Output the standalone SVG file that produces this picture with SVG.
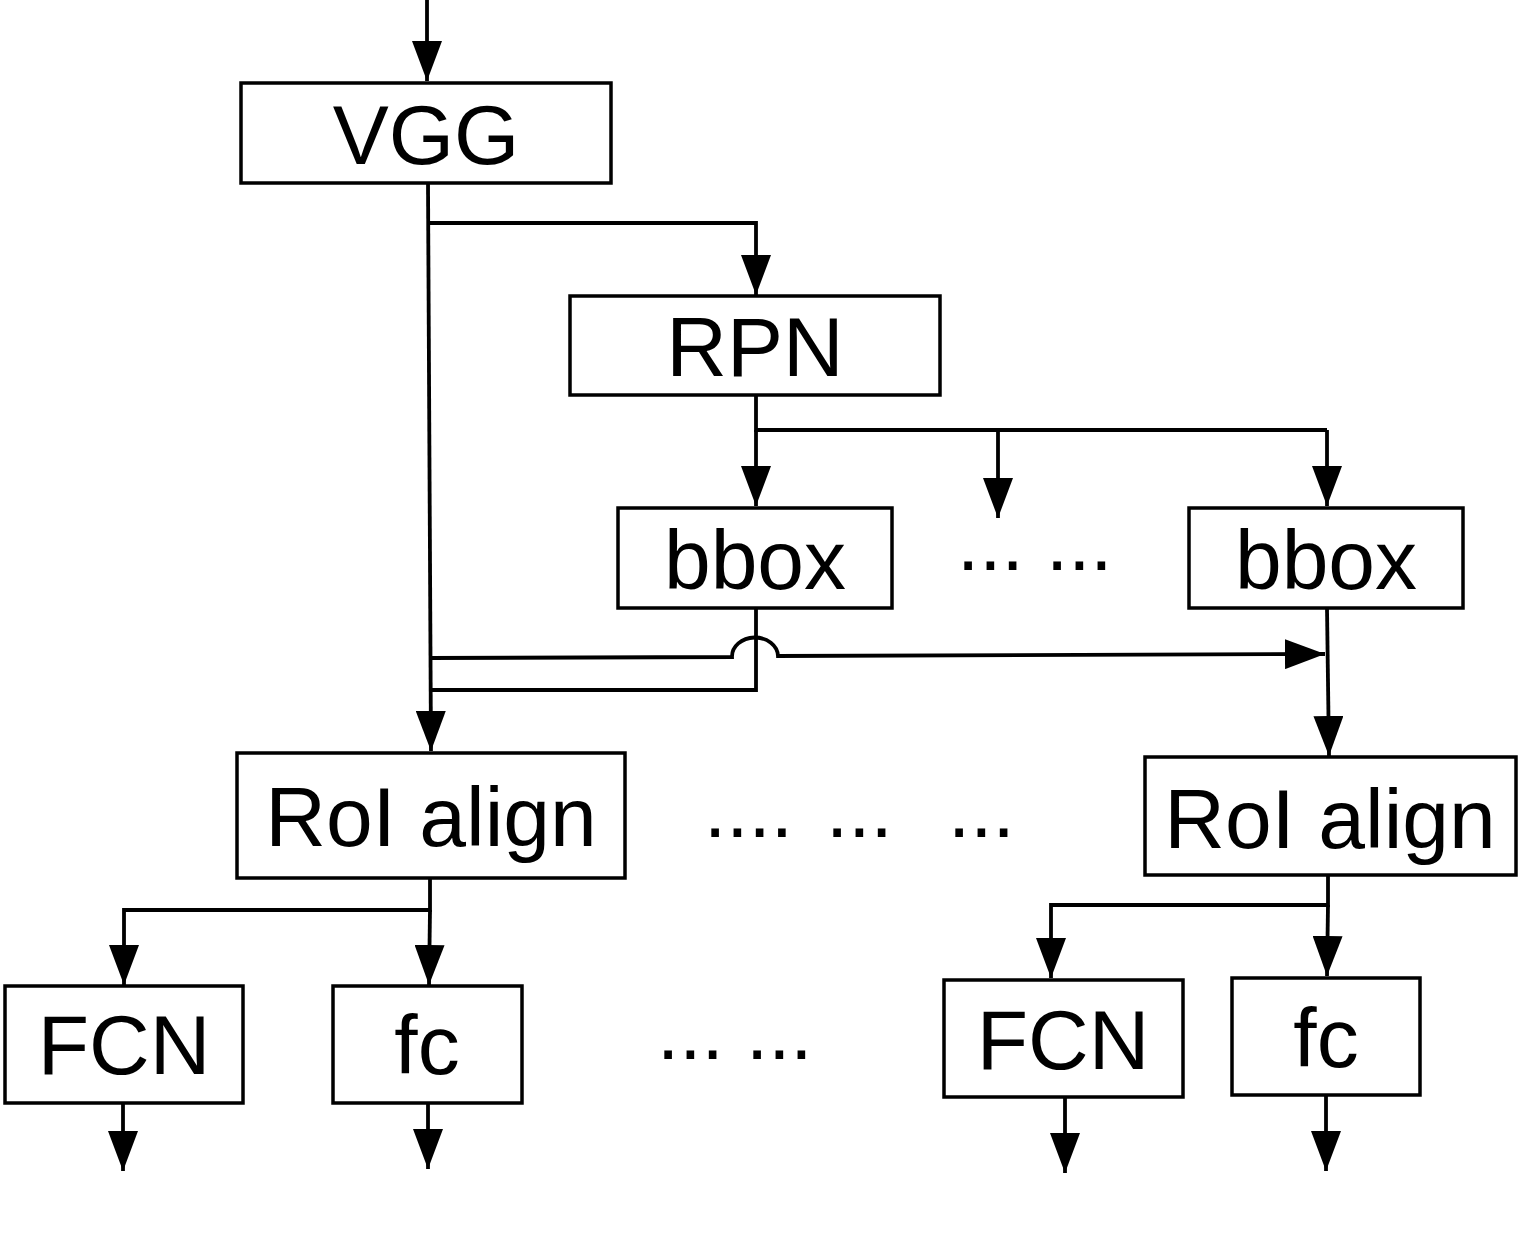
<svg xmlns="http://www.w3.org/2000/svg" width="1520" height="1233" viewBox="0 0 1520 1233">
<style>
.box{fill:#fff;stroke:#000;stroke-width:3.5}
.lbl{font-family:"Liberation Sans",Arial,Helvetica,sans-serif;font-size:84px;fill:#000;text-anchor:middle}
.dots{font-family:"Liberation Sans",Arial,Helvetica,sans-serif;font-size:80px;fill:#000}
.ln{fill:none;stroke:#000;stroke-width:3.8}
</style>
<defs>
<marker id="ah" markerUnits="userSpaceOnUse" markerWidth="40" markerHeight="30" refX="40" refY="15" orient="auto" viewBox="0 0 40 30">
<path d="M0,0 L40,15 L0,30 z" fill="#000"/>
</marker>
</defs>
<rect width="1520" height="1233" fill="#fff"/>
<g id="connectors">
<path class="ln" d="M427,0 L427,81" marker-end="url(#ah)"/>
<path class="ln" d="M428,223 L756,223 L756,295" marker-end="url(#ah)"/>
<path class="ln" d="M428,183 L431,751" marker-end="url(#ah)"/>
<path class="ln" d="M756,395 L756,430 L1327,430"/>
<path class="ln" d="M756,430 L756,506" marker-end="url(#ah)"/>
<path class="ln" d="M998,430 L998,518" marker-end="url(#ah)"/>
<path class="ln" d="M1327,430 L1327,506" marker-end="url(#ah)"/>
<path class="ln" d="M756,608 L756,690 L430,690"/>
<path class="ln" d="M430,658 L732,657 A23,19 0 0 1 778,656 L1325,654" marker-end="url(#ah)"/>
<path class="ln" d="M1327,608 L1329,756" marker-end="url(#ah)"/>
<path class="ln" d="M430,878 L430,910 L124,910 L124,985" marker-end="url(#ah)"/>
<path class="ln" d="M430,910 L429,985" marker-end="url(#ah)"/>
<path class="ln" d="M1328,875 L1328,905 L1051,905 L1051,978" marker-end="url(#ah)"/>
<path class="ln" d="M1328,905 L1327,976" marker-end="url(#ah)"/>
<path class="ln" d="M123,1103 L123,1171" marker-end="url(#ah)"/>
<path class="ln" d="M428,1103 L428,1169" marker-end="url(#ah)"/>
<path class="ln" d="M1065,1097 L1065,1173" marker-end="url(#ah)"/>
<path class="ln" d="M1326,1095 L1326,1171" marker-end="url(#ah)"/>
</g>
<g id="vgg"><rect class="box" x="241" y="83" width="370" height="100"/><text class="lbl" x="426" y="164">VGG</text></g>
<g id="rpn"><rect class="box" x="570" y="296" width="370" height="99"/><text class="lbl" x="755" y="376">RPN</text></g>
<g id="bbox1"><rect class="box" x="618" y="508" width="274" height="100"/><text class="lbl" x="755" y="589">bbox</text></g>
<g id="bbox2"><rect class="box" x="1189" y="508" width="274" height="100"/><text class="lbl" x="1326" y="589">bbox</text></g>
<g id="dots1"><text class="dots" x="957" y="570">... ...</text></g>
<g id="roi1"><rect class="box" x="237" y="753" width="388" height="125"/><text class="lbl" x="431" y="846">RoI align</text></g>
<g id="roi2"><rect class="box" x="1145" y="757" width="371" height="118"/><text class="lbl" x="1330" y="848">RoI align</text></g>
<g id="dots2"><text class="dots" x="704" y="837">....</text><text class="dots" x="826" y="837">...</text><text class="dots" x="948" y="837">...</text></g>
<g id="fcn1"><rect class="box" x="5" y="986" width="238" height="117"/><text class="lbl" x="124" y="1074">FCN</text></g>
<g id="fc1"><rect class="box" x="333" y="986" width="189" height="117"/><text class="lbl" x="427" y="1074">fc</text></g>
<g id="dots3"><text class="dots" x="657" y="1059">... ...</text></g>
<g id="fcn2"><rect class="box" x="944" y="980" width="239" height="117"/><text class="lbl" x="1063" y="1069">FCN</text></g>
<g id="fc2"><rect class="box" x="1232" y="978" width="188" height="117"/><text class="lbl" x="1326" y="1067">fc</text></g>
</svg>
